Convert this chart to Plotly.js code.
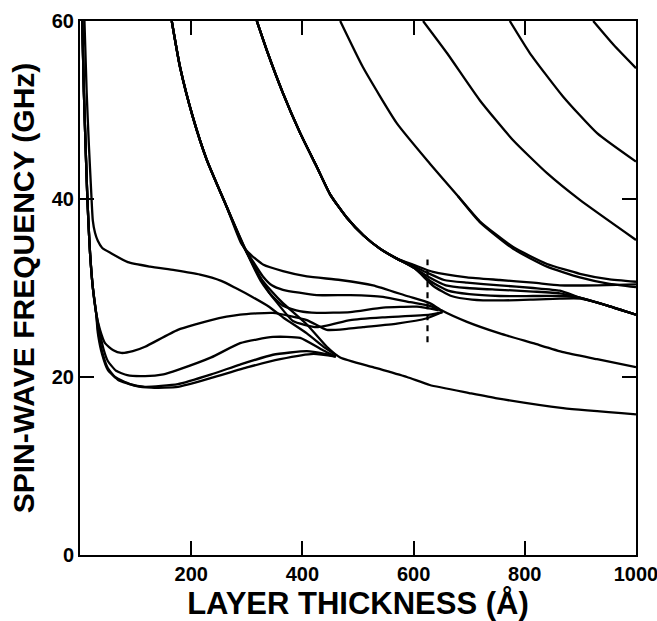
<!DOCTYPE html>
<html>
<head>
<meta charset="utf-8">
<script src="https://cdn.plot.ly/plotly-3.0.1.min.js"></script>
<style>html,body{margin:0;padding:0;background:#fff;}#chart{width:657px;height:621px;}</style>
</head>
<body>
<div id="chart"></div>
<script>
// ---- data (thickness in Å, frequency in GHz) ----
const xTickVals = [200, 400, 600, 800, 1000];
const xTickText = ["200", "400", "600", "800", "1000"];
const yTickVals = [0, 20, 40, 60];
const yTickText = ["0", "20", "40", "60"];

// low-thickness branches
const uX  = [8,12,16,20,23,27,32,40,56,86,126,170,216,254,280,310,340,365,408,440,462];
const uY  = [60,52,46,41,37.6,36.2,35.3,34.5,33.9,32.9,32.4,32.0,31.5,30.8,30.0,29.0,27.9,26.7,24.9,23.3,22.4];
const laX = [4,7,10,13,15,18,23,29,36,45,60,74,95,117,176,236,288,347,408,444,480,509,570,624,652];
const laY = [60,52,46,40.5,37.6,34,30.1,27.2,25.3,23.8,23.0,22.7,22.9,23.4,25.3,26.4,27.0,27.2,26.4,25.3,25.4,25.6,26.0,26.6,27.3];
const lbX = [4,7,10,13,15,18,23,29,34,42,50,65,85,117,150,176,236,288,347,396,437,460];
const lbY = [60,52,46,40.5,37.6,34,30.1,27.2,25.5,23.2,21.8,20.7,20.2,20.1,20.3,20.8,22.2,23.8,24.5,24.4,23.0,22.3];
const lcX = [4,7,10,13,15,18,23,29,33,40,50,63,90,117,176,236,288,347,408,440,460];
const lcY = [60,52,46,40.5,37.6,34,30.1,27.2,25.0,22.8,21.0,20.0,19.2,18.9,19.2,20.3,21.4,22.5,22.9,22.6,22.3];
const ldX = [4,7,10,13,15,18,23,29,32,40,50,68,100,128,176,236,302,360,420,460];
const ldY = [60,52,46,40.5,37.6,34,30.1,27.2,25.0,22.5,20.8,19.7,19.0,18.8,18.9,19.9,21.1,22.0,22.6,22.3];

// first descending mode and its branches
const s1X = [165,180,203,228,264,298,324,345,365,408,444,468,527,588,629,700,750,869,1000];
const s1Y = [60,54.8,49.2,44.4,39.1,34.3,31.2,29.6,28.3,25.9,23.4,22.2,21.1,20.0,19.1,18.2,17.6,16.5,15.8];
const m1X = [165,180,203,228,264,290,306,330,365,408,468,527,588,629,650,696,755,815,869,930,1000];
const m1Y = [60,54.8,49.2,44.4,39.1,35.0,33.8,32.6,31.9,31.3,30.9,30.3,29.1,28.3,27.5,26.2,24.9,23.8,22.8,22.0,21.1];
const m2X = [165,180,203,228,264,292,312,329,345,365,426,486,545,594,629,652];
const m2Y = [60,54.8,49.2,44.4,39.1,34.9,32.9,31.3,30.3,29.8,29.2,29.2,29.0,28.4,28.0,27.4];
const m3X = [165,180,203,228,264,294,318,340,365,395,426,486,545,606,645];
const m3Y = [60,54.8,49.2,44.4,39.1,34.7,31.9,29.5,28.0,27.4,27.2,27.3,27.8,27.9,27.5];
const m4X = [165,180,203,228,264,296,325,355,383,426,486,545,629,652];
const m4Y = [60,54.8,49.2,44.4,39.1,34.5,30.8,28.3,26.3,25.6,26.4,26.7,27.0,27.3];

// second descending mode and its branches
const u1X = [318,336,365,396,426,450,480,510,540,570,600,635,696,755,815,863,930,1000];
const u1Y = [60,56.7,51.9,47.4,43.6,40.5,37.9,35.9,34.4,33.3,32.6,31.8,31.2,30.9,30.6,30.3,30.3,30.4];
const u2X = [318,336,365,396,426,450,480,510,540,570,595,625,655,696,755,815,863,900,950,1000];
const u2Y = [60,56.7,51.9,47.4,43.6,40.5,37.9,35.9,34.4,33.3,32.6,31.7,30.9,30.6,30.3,30.0,29.7,28.9,28.0,27.0];
const u3X = [318,336,365,396,426,450,480,510,540,570,598,628,658,696,755,815,863,900,950,1000];
const u3Y = [60,56.7,51.9,47.4,43.6,40.5,37.9,35.9,34.4,33.3,32.4,31.2,30.3,30.0,29.8,29.6,29.4,28.9,28.0,27.0];
const u4X = [318,336,365,396,426,450,480,510,540,570,600,632,662,700,755,815,863,900,950,1000];
const u4Y = [60,56.7,51.9,47.4,43.6,40.5,37.9,35.9,34.4,33.3,32.3,30.7,29.7,29.3,29.1,29.1,29.1,28.9,28.0,27.0];
const u5X = [318,336,365,396,426,450,480,510,540,570,602,636,668,705,755,815,863,900,950,1000];
const u5Y = [60,56.7,51.9,47.4,43.6,40.5,37.9,35.9,34.4,33.3,32.2,30.2,29.1,28.7,28.6,28.7,28.8,28.8,28.0,27.0];

// higher descending modes
const r4X  = [468,509,570,629,680,719,779,840,899,950,1000];
const r4Y  = [60,54.8,48.5,44.0,40.3,37.5,34.6,32.7,31.6,31.0,30.7];
const r4bX = [680,719,779,840,899,950,1000];
const r4bY = [40.3,37.4,34.4,32.4,31.2,30.5,30.1];
const r3X  = [617,660,719,779,840,899,1000];
const r3Y  = [60,56.4,51.1,46.6,42.9,39.9,35.4];
const r2X  = [773,809,869,930,1000];
const r2Y  = [60,56.4,51.5,47.4,44.2];
const r1X  = [923,960,1000];
const r1Y  = [60,57.3,54.7];

// dashed marker
const dashX = [625, 625];
const dashY = [23.9, 33.2];

const curves = [
  [uX,uY],[laX,laY],[lbX,lbY],[lcX,lcY],[ldX,ldY],
  [s1X,s1Y],[m1X,m1Y],[m2X,m2Y],[m3X,m3Y],[m4X,m4Y],
  [u1X,u1Y],[u2X,u2Y],[u3X,u3Y],[u4X,u4Y],[u5X,u5Y],
  [r4X,r4Y],[r4bX,r4bY],[r3X,r3Y],[r2X,r2Y],[r1X,r1Y]
];

const traces = curves.map(([x,y]) => ({
  x: x, y: y, type: 'scatter', mode: 'lines',
  line: {color: '#000', width: 2.3, shape: 'spline', smoothing: 0.5},
  hoverinfo: 'skip', showlegend: false
}));
traces.push({
  x: dashX, y: dashY, type: 'scatter', mode: 'lines',
  line: {color: '#000', width: 2.2, dash: '6px,5px'},
  hoverinfo: 'skip', showlegend: false
});

const tickFont = {family: 'Liberation Sans, Arial, sans-serif', size: 20, color: '#000', weight: 'bold'};
const titleFont = {family: 'Liberation Sans, Arial, sans-serif', size: 30, color: '#000', weight: 'bold'};
const xTitleFont = {family: 'Liberation Sans, Arial, sans-serif', size: 31, color: '#000', weight: 'bold'};

const layout = {
  width: 657, height: 621,
  margin: {l: 80, r: 21, t: 21, b: 66, pad: 0},
  paper_bgcolor: '#fff', plot_bgcolor: '#fff',
  showlegend: false,
  xaxis: {
    range: [0, 1000], showgrid: false, zeroline: false,
    showline: true, linecolor: '#000', linewidth: 2, mirror: 'ticks',
    ticks: 'inside', ticklen: 14, tickwidth: 2, tickcolor: '#000',
    tickvals: xTickVals, ticktext: xTickText, tickfont: tickFont,
    ticklabeloverflow: 'allow',
    title: {text: 'LAYER THICKNESS (Å)', font: xTitleFont, standoff: 10}
  },
  yaxis: {
    range: [0, 60], showgrid: false, zeroline: false,
    showline: true, linecolor: '#000', linewidth: 2, mirror: 'ticks',
    ticks: 'inside', ticklen: 14, tickwidth: 2, tickcolor: '#000',
    tickvals: yTickVals, ticktext: yTickText, tickfont: tickFont,
    ticklabeloverflow: 'allow',
    title: {text: 'SPIN-WAVE FREQUENCY (GHz)', font: titleFont, standoff: 8}
  }
};

Plotly.newPlot('chart', traces, layout, {staticPlot: true, displayModeBar: false});
</script>
</body>
</html>
